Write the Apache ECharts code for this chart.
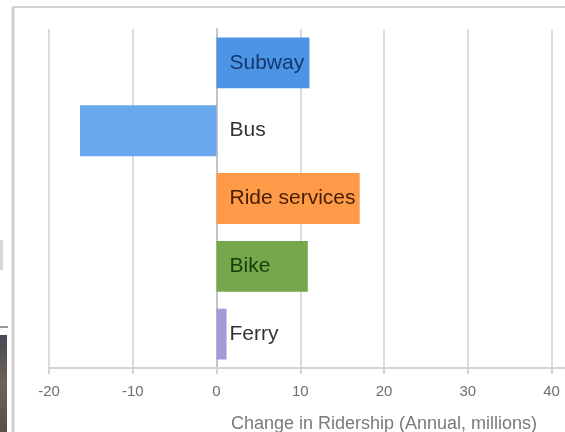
<!DOCTYPE html>
<html>
<head>
<meta charset="utf-8">
<title>Change in Ridership</title>
<script src="https://cdn.jsdelivr.net/npm/echarts@6/dist/echarts.min.js"></script>
<style>
  html, body { margin: 0; padding: 0; background: #ffffff; }
  #chart { width: 565px; height: 432px; }
</style>
</head>
<body>
<div id="chart"></div>
<script>
// Modes of transport, top to bottom
const categories = ['Subway', 'Bus', 'Ride services', 'Bike', 'Ferry'];
// Change in annual ridership, millions
const ridershipChange = [11.1, -16.3, 17.1, 10.9, 1.2];
// Bar fill per mode
const barColors = ['#4c94e4', '#69a8ec', '#ff9a48', '#74a84a', '#a49ad8'];
// Label text colour per mode
const labelColors = ['#15366f', '#333333', '#472004', '#173d0c', '#333333'];
// Value axis settings
const xMin = -20;
const xMax = 60;
const xStep = 10;

const chart = echarts.init(document.getElementById('chart'), null, { renderer: 'canvas' });

chart.setOption({
  animation: false,
  backgroundColor: '#ffffff',
  grid: {
    left: 49,
    right: -154,
    top: 29,
    bottom: 64,
    outerBoundsMode: 'none',
    containLabel: false
  },
  xAxis: {
    type: 'value',
    min: xMin,
    max: xMax,
    interval: xStep,
    name: 'Change in Ridership (Annual, millions)',
    nameLocation: 'middle',
    nameGap: 47,
    nameTextStyle: { color: '#7a7a7a', fontSize: 18, fontFamily: 'Liberation Sans' },
    axisLine: { show: true, onZero: false, lineStyle: { color: '#d4d4d4', width: 2 } },
    axisTick: { show: true, length: 6, lineStyle: { color: '#d4d4d4', width: 2 } },
    axisLabel: { color: '#6e6e6e', fontSize: 15, margin: 16, fontFamily: 'Liberation Sans' },
    splitLine: { show: true, lineStyle: { color: '#dcdcdc', width: 2 } }
  },
  yAxis: {
    type: 'category',
    data: categories,
    inverse: true,
    axisLine: { show: true, onZero: true, lineStyle: { color: '#c4c4c4', width: 2 } },
    axisTick: { show: false },
    splitLine: { show: false },
    axisLabel: { show: false }
  },
  series: [
    {
      type: 'bar',
      barCategoryGap: '25%',
      data: ridershipChange.map((v, i) => ({ value: v, itemStyle: { color: barColors[i] } }))
    },
    {
      // category names written just right of the zero line
      type: 'scatter',
      symbolSize: 0,
      z: 5,
      silent: true,
      itemStyle: { opacity: 1 },
      data: categories.map((c, i) => ({
        value: [0, c],
        label: { color: labelColors[i] }
      })),
      label: {
        show: true,
        position: 'right',
        distance: 13,
        fontSize: 21,
        fontFamily: 'Liberation Sans',
        formatter: (p) => p.value[1]
      }
    }
  ],
  graphic: [
    // outer frame of the panel
    { type: 'line', shape: { x1: 13, y1: 7, x2: 565, y2: 7 }, style: { stroke: '#d2d2d2', lineWidth: 2 }, z: 10 },
    { type: 'line', shape: { x1: 13, y1: 7, x2: 13, y2: 432 }, style: { stroke: '#cfcfcf', lineWidth: 3 }, z: 10 },
    // neighbouring page content at the left edge
    { type: 'rect', shape: { x: 0, y: 335, width: 7, height: 97 },
      style: { fill: new echarts.graphic.LinearGradient(0, 0, 0, 1, [
        { offset: 0, color: '#4a4a55' }, { offset: 0.5, color: '#6b6258' }, { offset: 1, color: '#5a5048' }]) }, z: 10 },
    { type: 'rect', shape: { x: 0, y: 326, width: 8, height: 2 }, style: { fill: '#9a9a9a' }, z: 10 },
    { type: 'rect', shape: { x: 0, y: 240, width: 3, height: 30 }, style: { fill: '#d8d8d8' }, z: 10 }
  ]
});
</script>
</body>
</html>
